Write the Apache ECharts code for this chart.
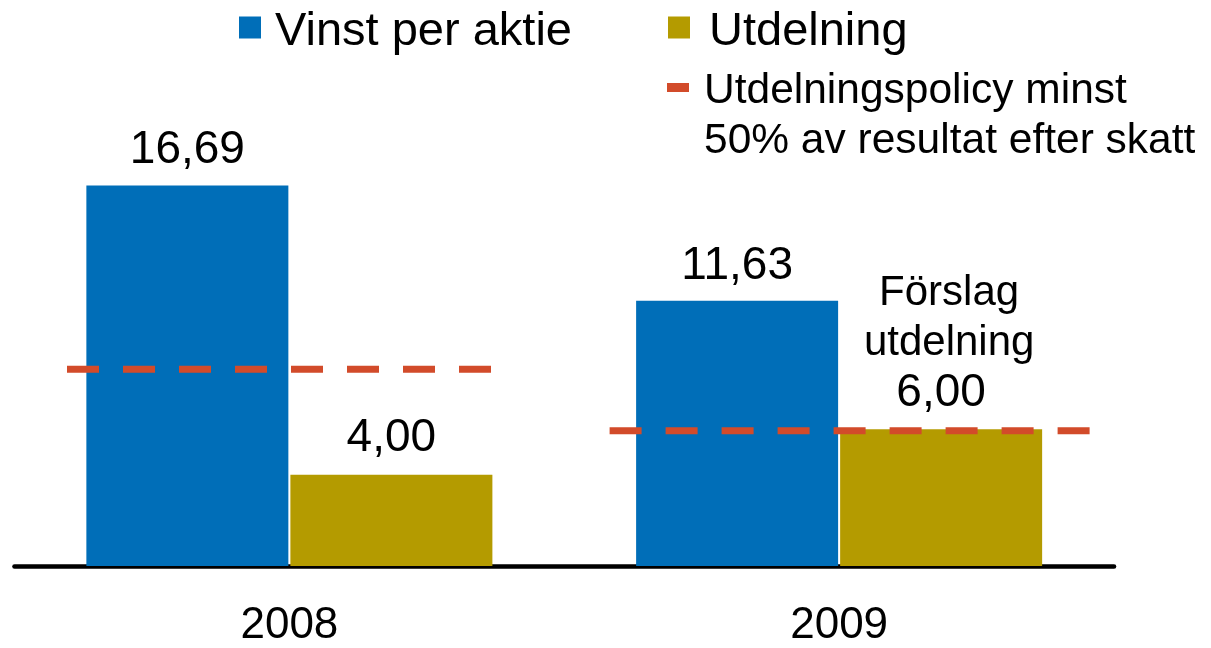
<!DOCTYPE html>
<html>
<head>
<meta charset="utf-8">
<script src="https://cdn.jsdelivr.net/npm/echarts@6/dist/echarts.min.js"></script>
<style>
html,body{margin:0;padding:0;background:#fff;}
#chart{width:1211px;height:648px;}
</style>
</head>
<body>
<div id="chart"></div>
<script>
// ---- data ----
const categories = ['2008', '2009'];
const epsValues = [16.69, 11.63];          // Vinst per aktie
const dividendValues = [4.00, 6.00];       // Utdelning
const policyValues = [8.63, 5.93];         // Utdelningspolicy
const dividendNotes = ['', 'Förslag\nutdelning'];
const seriesNames = ['Vinst per aktie', 'Utdelning', 'Utdelningspolicy minst\n50% av resultat efter skatt'];

// ---- styles / layout ----
const FONT = "'Liberation Sans', Arial, Helvetica, sans-serif";
const BLUE = '#006EB8';
const OLIVE = '#B49B00';
const RED = '#D24B2A';
// horizontal extent of each policy line, as fraction of category band width relative to its centre
const policyLineExtent = [[-0.4045, 0.367], [-0.4175, 0.456]];

const fmt = v => v.toFixed(2).replace('.', ',');

const chart = echarts.init(document.getElementById('chart'), null, {renderer: 'canvas'});

const barLabel = {
  show: true,
  position: 'top',
  distance: 10,
  color: '#000',
  fontFamily: FONT,
  fontSize: 46,
  lineHeight: 50
};

// rich legend text: a small spacer line on top nudges the text down relative to the icon
const legendRich = {
  s: {fontSize: 4, lineHeight: 9},
  s3: {fontSize: 4, lineHeight: 57},
  t: {fontFamily: FONT, fontSize: 47, lineHeight: 40, color: '#000'},
  t3: {fontFamily: FONT, fontSize: 42.5, lineHeight: 50, color: '#000'}
};

const option = {
  animation: false,
  backgroundColor: '#fff',
  textStyle: {fontFamily: FONT},
  grid: {left: 14.5, right: 97, top: 110, bottom: 82, containLabel: false},
  legend: [
    {
      data: [{name: seriesNames[0], icon: 'rect'}],
      left: 239, top: 5.5, padding: 0,
      itemWidth: 22, itemHeight: 22,
      selectedMode: false,
      formatter: name => '{s| }\n{t|' + name + '}',
      textStyle: {fontFamily: FONT, color: '#000', padding: [0, 0, 0, 9], rich: legendRich}
    },
    {
      data: [{name: seriesNames[1], icon: 'rect'}],
      left: 668, top: 5.5, padding: 0,
      itemWidth: 22, itemHeight: 22,
      selectedMode: false,
      formatter: name => '{s| }\n{t|' + name + '}',
      textStyle: {fontFamily: FONT, color: '#000', padding: [0, 0, 0, 14], rich: legendRich}
    },
    {
      data: [{name: seriesNames[2], icon: 'rect', itemStyle: {color: RED}}],
      left: 667, top: 35.5, padding: 0,
      itemWidth: 22, itemHeight: 9,
      selectedMode: false,
      formatter: name => '{s3| }\n' + name.split('\n').map(s => '{t3|' + s + '}').join('\n'),
      textStyle: {fontFamily: FONT, color: '#000', padding: [0, 0, 0, 10], rich: legendRich}
    }
  ],
  xAxis: {
    type: 'category',
    data: categories,
    axisLine: {show: true, onZero: true, lineStyle: {color: '#000', width: 4.6}},
    axisTick: {show: false},
    splitLine: {show: false},
    axisLabel: {color: '#000', fontFamily: FONT, fontSize: 44, margin: 38}
  },
  yAxis: {
    type: 'value',
    min: 0, max: 20,
    show: false,
    splitLine: {show: false}
  },
  series: [
    {
      name: seriesNames[0],
      type: 'bar',
      data: epsValues,
      barWidth: 202,
      barGap: '1%',
      itemStyle: {color: BLUE},
      label: Object.assign({}, barLabel, {formatter: p => fmt(p.value)})
    },
    {
      name: seriesNames[1],
      type: 'bar',
      data: dividendValues,
      barWidth: 202,
      barGap: '1%',
      itemStyle: {color: OLIVE},
      label: Object.assign({}, barLabel, {
        distance: 11,
        formatter: p => {
          const note = dividendNotes[p.dataIndex];
          const num = '{v|' + fmt(p.value) + '}';
          if (!note) return num;
          return note.split('\n').map(s => '{n|' + s + '}').join('\n') + '\n' + num;
        },
        rich: {
          n: {fontFamily: FONT, fontSize: 42, lineHeight: 50, color: '#000', padding: [0, 0, 0, 16]},
          v: {fontFamily: FONT, fontSize: 46, lineHeight: 50, color: '#000'}
        }
      })
    },
    {
      name: seriesNames[2],
      type: 'custom',
      z: 5,
      itemStyle: {color: RED},
      data: policyValues.map((v, i) => [i, v]),
      encode: {x: 0, y: 1},
      renderItem: function (params, api) {
        const idx = params.dataIndex;
        const p = api.coord([api.value(0), api.value(1)]);
        const band = api.size([1, 0])[0];
        const ext = policyLineExtent[idx];
        return {
          type: 'line',
          shape: {x1: p[0] + ext[0] * band, y1: p[1], x2: p[0] + ext[1] * band, y2: p[1]},
          style: {stroke: RED, lineWidth: 7, lineDash: [32, 24], lineCap: 'butt'}
        };
      }
    }
  ]
};

chart.setOption(option);
</script>
</body>
</html>
